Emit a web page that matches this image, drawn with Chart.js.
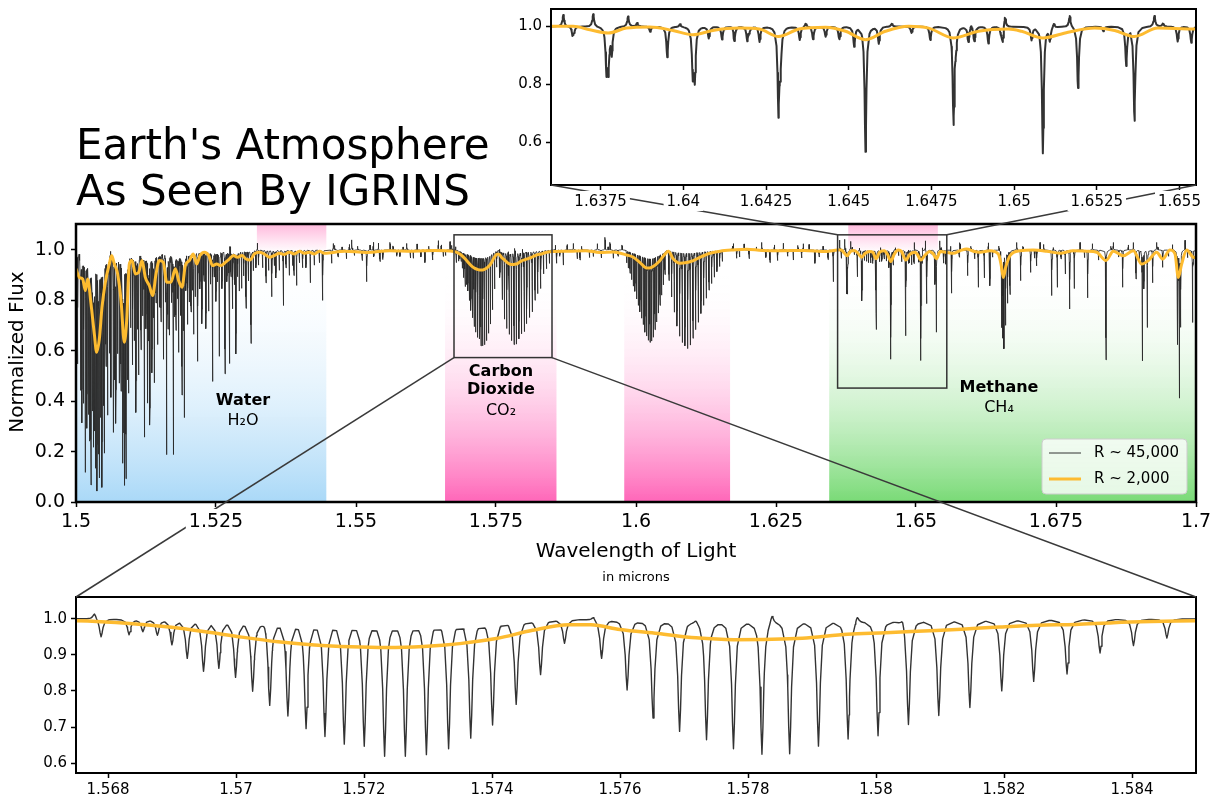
<!DOCTYPE html>
<html>
<head>
<meta charset="utf-8">
<script src="https://cdn.jsdelivr.net/npm/chart.js@4.4.1/dist/chart.umd.min.js"></script>
<style>
  body { margin: 0; background: #fff; width: 1215px; height: 800px; overflow: hidden; position: relative; font-family: 'DejaVu Sans', sans-serif; }
  .pane { position: absolute; }
  #title { position: absolute; left: 76px; top: 122px; font-size: 42px; line-height: 46px; white-space: nowrap; color: #000;
    will-change: transform; -webkit-font-smoothing: antialiased; }
  #overlay { position: absolute; left: 0; top: 0; pointer-events: none; }
</style>
</head>
<body>
<div id="title">Earth's Atmosphere<br>As Seen By IGRINS</div>
<canvas class="pane" id="mainChart" width="1215" height="386" style="left:0;top:214px"></canvas>
<canvas class="pane" id="topChart" width="735" height="222" style="left:480px;top:0"></canvas>
<canvas class="pane" id="bottomChart" width="1215" height="212" style="left:0;top:588px"></canvas>
<canvas id="overlay" width="1215" height="800"></canvas>
<script>
Chart.defaults.font.family = "'DejaVu Sans', sans-serif";
Chart.defaults.color = '#000';

// ---- high resolution spectrum: absorption features (wavelength in microns, minimum flux) ----
const waterWl = [1.50107, 1.50167, 1.50226, 1.50268, 1.50310, 1.50345, 1.50375, 1.50417, 1.50464, 1.50506,
  1.50565, 1.50625, 1.50667, 1.50714, 1.50774, 1.50833, 1.50863, 1.50893, 1.50940, 1.51012,
  1.51071, 1.51119, 1.51161, 1.51220, 1.51280, 1.51321, 1.51357, 1.51399, 1.51458, 1.51518,
  1.51560, 1.51619, 1.51667, 1.51738, 1.51786, 1.51833, 1.51893, 1.51935, 1.51994, 1.52054,
  1.52101, 1.52173, 1.52250, 1.52321, 1.52369, 1.52440, 1.52500, 1.52560, 1.52661, 1.52738,
  1.52798, 1.52857, 1.52917, 1.52958, 1.53036, 1.53125, 1.53214, 1.53393, 1.53497, 1.53571,
  1.53702, 1.53810, 1.53893, 1.53940, 1.54048, 1.54185, 1.54405,
  1.50030, 1.50083, 1.50137, 1.50196, 1.50244, 1.50292, 1.50327, 1.50399, 1.50440, 1.50488,
  1.50536, 1.50595, 1.50696, 1.50744, 1.50804, 1.50851, 1.50917, 1.50976, 1.51042, 1.51095,
  1.51190, 1.51250, 1.51298, 1.51381, 1.51429, 1.51488, 1.51595, 1.51643, 1.51702, 1.51762,
  1.51810, 1.51863, 1.51917, 1.51964, 1.52024, 1.52077, 1.52131, 1.52214, 1.52286, 1.52405,
  1.52470, 1.52530, 1.52607, 1.52696, 1.52768, 1.52833, 1.52887, 1.52994, 1.53077, 1.53167,
  1.53262, 1.53333, 1.53440, 1.53542, 1.53631, 1.53750, 1.53869, 1.53988, 1.54107, 1.54256, 1.54345,
  1.50238, 1.50613, 1.51590, 1.52750, 1.53240];
const waterFlux = [0.32, 0.12, 0.36, 0.07, 0.23, 0.14, 0.045, 0.10, 0.06, 0.20,
  0.35, 0.42, 0.28, 0.32, 0.48, 0.16, 0.07, 0.095, 0.44, 0.55,
  0.36, 0.51, 0.61, 0.26, 0.40, 0.31, 0.52, 0.48, 0.63, 0.72,
  0.57, 0.19, 0.67, 0.19, 0.69, 0.60, 0.43, 0.34, 0.71, 0.76,
  0.67, 0.56, 0.71, 0.69, 0.76, 0.48, 0.80, 0.58, 0.51, 0.55,
  0.77, 0.59, 0.84, 0.85, 0.77, 0.63, 0.93, 0.87, 0.815, 0.89,
  0.78, 0.90, 0.90, 0.86, 0.93, 0.87, 0.80,
  0.55, 0.45, 0.40, 0.30, 0.25, 0.38, 0.30, 0.20, 0.35, 0.40,
  0.55, 0.60, 0.50, 0.60, 0.45, 0.30, 0.50, 0.70, 0.65, 0.70,
  0.75, 0.70, 0.66, 0.75, 0.80, 0.78, 0.80, 0.70, 0.80, 0.75,
  0.82, 0.75, 0.70, 0.85, 0.80, 0.85, 0.82, 0.85, 0.88, 0.87,
  0.90, 0.88, 0.85, 0.88, 0.90, 0.87, 0.90, 0.90, 0.88, 0.92,
  0.94, 0.93, 0.92, 0.94, 0.92, 0.93, 0.94, 0.95, 0.93, 0.94, 0.95,
  1.044, 1.05, 1.037, 1.046, 1.03];

const co2aWl = [1.567892, 1.568329, 1.568545, 1.568772, 1.568999, 1.569238, 1.569493, 1.569732, 1.569993, 1.570260,
  1.570527, 1.570811, 1.571095, 1.571390, 1.571692, 1.572004, 1.572322, 1.572646, 1.572975, 1.573322,
  1.573668, 1.574009, 1.574378, 1.574759, 1.575133, 1.575713, 1.576111, 1.576516, 1.576931, 1.577352,
  1.577773, 1.578218, 1.578651, 1.579101, 1.579564, 1.580032, 1.580507, 1.580981, 1.581467, 1.581965,
  1.582464, 1.582985, 1.583501, 1.584023, 1.584545];
const co2aFlux = [0.949, 0.957, 0.966, 0.957, 0.931, 0.894, 0.859, 0.868, 0.843, 0.805,
  0.765, 0.737, 0.702, 0.680, 0.659, 0.653, 0.625, 0.625, 0.629, 0.645,
  0.674, 0.710, 0.766, 0.848, 0.934, 0.892, 0.805, 0.728, 0.691, 0.668,
  0.643, 0.627, 0.629, 0.650, 0.669, 0.678, 0.708, 0.734, 0.756, 0.802,
  0.828, 0.848, 0.906, 0.926, 0.947];

const co2bWl = [1.598333, 1.598631, 1.598929, 1.599226, 1.599524, 1.599821, 1.600119, 1.600417, 1.600714, 1.601012,
  1.601310, 1.601607, 1.601905, 1.602202, 1.602500, 1.602798, 1.603095, 1.603393, 1.603690, 1.603988,
  1.604286, 1.604583, 1.604881, 1.605179,
  1.605893, 1.606369, 1.606845, 1.607321, 1.607798, 1.608274, 1.608750, 1.609226, 1.609702, 1.610179,
  1.610655, 1.611131, 1.611607, 1.612083, 1.612560, 1.613036, 1.613512, 1.613988, 1.614464, 1.614940, 1.615417];
const co2bFlux = [0.95, 0.93, 0.91, 0.885, 0.86, 0.84, 0.81, 0.785, 0.76, 0.735,
  0.71, 0.68, 0.665, 0.648, 0.64, 0.645, 0.66, 0.69, 0.72, 0.755,
  0.785, 0.825, 0.865, 0.905,
  0.88, 0.815, 0.755, 0.70, 0.66, 0.635, 0.622, 0.611, 0.625, 0.652,
  0.686, 0.715, 0.75, 0.782, 0.81, 0.842, 0.868, 0.893, 0.915, 0.935, 0.955];

const ch4Wl = [1.635238, 1.636653, 1.637677, 1.637737, 1.637837, 1.639514, 1.640287, 1.640347, 1.640769, 1.641171,
  1.641542, 1.641934, 1.642305, 1.642877, 1.642938, 1.643520, 1.643922, 1.644303, 1.644725, 1.645166,
  1.645508, 1.645910, 1.647466, 1.648169, 1.648239, 1.648620, 1.648801, 1.649223, 1.649654, 1.650528,
  1.650870, 1.651080, 1.651934, 1.653390, 1.653640, 1.654946,
  1.655357, 1.656369, 1.659226, 1.661131, 1.662202, 1.663214, 1.665298, 1.665476, 1.665714, 1.666012,
  1.666369, 1.666786, 1.668690, 1.670476, 1.671548, 1.674226, 1.675238, 1.676667, 1.677440, 1.678274,
  1.680655, 1.683929, 1.686905, 1.689286, 1.690417, 1.690714, 1.691310, 1.692262, 1.694048, 1.696667,
  1.697024, 1.697262, 1.699405];
const ch4Flux = [0.874, 0.971, 0.852, 0.856, 0.910, 0.894, 0.839, 0.825, 0.960, 0.956,
  0.948, 0.952, 0.948, 0.704, 0.860, 0.954, 0.956, 0.965, 0.965, 0.933,
  0.567, 0.942, 0.954, 0.666, 0.940, 0.948, 0.950, 0.942, 0.945, 0.955,
  0.562, 0.955, 0.787, 0.867, 0.675, 0.948,
  0.944, 0.828, 0.898, 0.852, 0.872, 0.858, 0.700, 0.660, 0.614, 0.706,
  0.792, 0.825, 0.878, 0.911, 0.937, 0.819, 0.852, 0.905, 0.766, 0.845,
  0.810, 0.564, 0.852, 0.885, 0.561, 0.850, 0.693, 0.870, 0.931, 0.627,
  0.415, 0.700, 0.700];

// small dips and noise spikes along the continuum
const fuzzWl = [1.545655, 1.545952, 1.549226, 1.551905, 1.553095, 1.554286, 1.556071, 1.557857, 1.559048, 1.560238,
  1.562321, 1.564702, 1.565595, 1.566786, 1.585833, 1.587024, 1.588810, 1.590000, 1.592381, 1.594464,
  1.595357, 1.595952, 1.617381, 1.617976, 1.622440, 1.623929, 1.626310, 1.628095, 1.629881, 1.631964,
  1.636371, 1.637275, 1.638329, 1.649725, 1.651683, 1.654243, 1.657857, 1.662917, 1.667976, 1.672143,
  1.679286, 1.685238, 1.688810, 1.692976, 1.698036,
  1.5462, 1.5468, 1.5475, 1.5483, 1.5488, 1.5497, 1.5503, 1.5511, 1.5525, 1.5532,
  1.5540, 1.5548, 1.5566, 1.5573, 1.5584, 1.5597, 1.5609, 1.5616, 1.5630, 1.5637,
  1.5652, 1.5660, 1.5671, 1.5856, 1.5864, 1.5877, 1.5895, 1.5903, 1.5917, 1.5931,
  1.5938, 1.5950, 1.5968, 1.5975, 1.6172, 1.6185, 1.6193, 1.6202, 1.6215, 1.6232,
  1.6247, 1.6253, 1.6271, 1.6289, 1.6296, 1.6309, 1.6327, 1.6334, 1.6343,
  1.6367, 1.6386, 1.6390, 1.6399, 1.6415, 1.6420, 1.6437, 1.6447, 1.6463, 1.6469,
  1.6487, 1.6496, 1.6512, 1.6527, 1.6545,
  1.6562, 1.6577, 1.6598, 1.6605, 1.6622, 1.6637, 1.6648, 1.6691, 1.6712, 1.6728,
  1.6745, 1.6759, 1.6782, 1.6801, 1.6815, 1.6826, 1.6848, 1.6862, 1.6879, 1.6899,
  1.6932, 1.6951, 1.6958, 1.6985, 1.6994,
  1.567789, 1.570448, 1.575583, 1.577186, 1.578375, 1.579706, 1.580417];
const fuzzFlux = [0.947, 1.026, 1.04, 0.874, 1.033, 0.954, 1.03, 0.974, 1.026, 0.967,
  0.95, 1.037, 0.974, 1.033, 0.947, 0.94, 1.026, 0.96, 0.974, 1.05,
  1.03, 0.967, 1.025, 0.967, 1.03, 0.95, 1.027, 0.96, 1.025, 0.947,
  1.04, 1.044, 1.035, 1.04, 1.04, 1.037, 1.03, 1.03, 1.03, 1.03,
  1.03, 1.03, 1.03, 1.03, 1.04,
  1.018, 0.972, 1.012, 0.965, 1.022, 0.978, 1.015, 0.958, 1.02, 0.97,
  1.028, 0.962, 1.016, 0.975, 1.012, 0.968, 1.024, 0.972, 1.015, 0.96,
  1.02, 0.978, 1.018, 1.02, 0.975, 1.022, 0.965, 1.015, 0.97, 1.025,
  0.968, 1.012, 0.975, 1.02, 1.015, 0.972, 1.024, 0.965, 1.012, 0.97,
  1.02, 0.958, 0.975, 1.018, 0.968, 1.022, 0.972, 1.015, 0.962,
  0.985, 1.012, 0.982, 1.01, 1.008, 0.985, 1.012, 0.986, 1.01, 0.978,
  1.012, 0.982, 1.015, 0.984, 1.01,
  1.02, 0.97, 1.015, 0.965, 1.02, 0.972, 1.018, 1.015, 0.968, 1.022,
  1.012, 0.965, 1.018, 0.97, 1.025, 0.96, 1.015, 0.972, 1.02, 0.965,
  1.012, 0.975, 1.022, 0.97, 1.018,
  1.017, 1.012, 1.01, 1.01, 1.026, 1.022, 1.022];

// ---- low resolution spectrum (R ~ 2,000) ----
const lowWl = [1.50000, 1.50060, 1.50119, 1.50167, 1.50208, 1.50268, 1.50327, 1.50369, 1.50417, 1.50464,
  1.50524, 1.50595, 1.50637, 1.50685, 1.50744, 1.50804, 1.50863, 1.50905, 1.50952, 1.51000,
  1.51060, 1.51119, 1.51179, 1.51238, 1.51310, 1.51369, 1.51429, 1.51488, 1.51560, 1.51619,
  1.51696, 1.51774, 1.51833, 1.51893, 1.51952, 1.52024, 1.52095, 1.52155, 1.52214, 1.52292,
  1.52369, 1.52440, 1.52512, 1.52589, 1.52667, 1.52738, 1.52810, 1.52887, 1.52964, 1.53036,
  1.53107, 1.53185, 1.53274, 1.53363, 1.53452, 1.53542, 1.53631, 1.53720, 1.53810, 1.53899,
  1.53988, 1.54077, 1.54167, 1.54256, 1.54345, 1.54435, 1.5480, 1.5519, 1.5560, 1.5600,
  1.5640, 1.567506, 1.568386, 1.568954, 1.569522, 1.570090, 1.570658, 1.571226, 1.571794, 1.572362,
  1.572930, 1.573498, 1.574066, 1.574634, 1.575202, 1.575543, 1.576000, 1.576593, 1.577186, 1.577779,
  1.578372, 1.578846, 1.579558, 1.580151, 1.580744, 1.581337, 1.581930, 1.582523, 1.583116, 1.583709,
  1.584302, 1.585001, 1.5880, 1.5910, 1.593571, 1.595952, 1.598333, 1.599524, 1.600714, 1.601905,
  1.602798, 1.603988, 1.605179, 1.605774, 1.606667, 1.607857, 1.609048, 1.610238, 1.611429, 1.613214,
  1.615000, 1.617381, 1.619762, 1.6225, 1.6260, 1.6300, 1.6340, 1.636020, 1.636673, 1.637175,
  1.637727, 1.638279, 1.638982, 1.639685, 1.640287, 1.640889, 1.641693, 1.642295, 1.642877, 1.643500,
  1.644303, 1.644906, 1.645508, 1.646111, 1.646813, 1.647416, 1.648169, 1.648922, 1.649825, 1.650227,
  1.650870, 1.651633, 1.652436, 1.653039, 1.653640, 1.654343, 1.655398, 1.656667, 1.657857, 1.659048,
  1.660238, 1.661429, 1.663214, 1.664702, 1.665179, 1.665595, 1.666012, 1.666786, 1.668571, 1.670952,
  1.673333, 1.675714, 1.678095, 1.680476, 1.682262, 1.683929, 1.685238, 1.687024, 1.688810, 1.690298,
  1.691488, 1.692976, 1.694048, 1.695357, 1.696250, 1.696845, 1.697440, 1.698333, 1.699524, 1.7];
const lowFlux = [0.925, 0.891, 0.885, 0.839, 0.885, 0.786, 0.667, 0.594, 0.647, 0.772,
  0.872, 0.944, 0.978, 0.944, 0.905, 0.799, 0.634, 0.720, 0.944, 0.958,
  0.905, 0.911, 0.958, 0.891, 0.858, 0.819, 0.905, 0.958, 0.951, 0.872,
  0.872, 0.925, 0.878, 0.852, 0.938, 0.958, 0.984, 0.944, 0.978, 0.991,
  0.978, 0.938, 0.944, 0.938, 0.951, 0.964, 0.978, 0.971, 0.978, 0.964,
  0.960, 0.984, 0.991, 0.984, 0.971, 0.978, 0.987, 0.982, 0.991, 0.984,
  0.995, 0.987, 0.991, 0.984, 0.995, 0.987, 0.995, 0.990, 0.997, 0.995,
  0.998, 0.994, 0.986, 0.977, 0.964, 0.949, 0.936, 0.927, 0.922, 0.920,
  0.923, 0.931, 0.945, 0.968, 0.983, 0.983, 0.970, 0.959, 0.947, 0.942,
  0.943, 0.946, 0.957, 0.961, 0.966, 0.971, 0.977, 0.982, 0.984, 0.989,
  0.992, 0.994, 0.995, 0.997, 0.990, 0.992, 0.980, 0.971, 0.950, 0.928,
  0.931, 0.951, 0.984, 0.995, 0.964, 0.947, 0.950, 0.958, 0.971, 0.987,
  0.995, 1.000, 1.003, 0.998, 0.997, 0.998, 0.994, 1.000, 1.000, 0.988,
  0.977, 0.994, 0.998, 0.986, 0.971, 0.986, 0.994, 0.991, 0.965, 0.991,
  0.997, 0.983, 0.954, 0.983, 1.000, 0.994, 0.960, 0.983, 0.991, 0.983,
  0.960, 0.980, 0.994, 0.986, 0.965, 0.994, 0.991, 0.987, 0.997, 1.004,
  0.995, 0.991, 0.997, 0.984, 0.944, 0.891, 0.931, 0.977, 0.997, 1.000,
  0.995, 0.987, 0.997, 0.995, 0.991, 0.958, 0.995, 0.977, 0.997, 0.944,
  0.958, 0.991, 0.964, 1.000, 0.984, 0.891, 0.944, 1.000, 0.971, 0.970];

// ---- molecule bands and zoom windows ----
const bandFrom = [1.5, 1.5659, 1.5979, 1.6345];
const bandTo = [1.5447, 1.5858, 1.6168, 1.7];
const capFrom = [1.5323, 1.6379];
const capTo = [1.5447, 1.6539];
const bottomX = [1.5675, 1.585], bottomY = [0.573, 1.06];
const topX = [1.636, 1.6555], topY = [0.452, 1.06];

// ---- tick values ----
const mainXTicks = [1.5, 1.525, 1.55, 1.575, 1.6, 1.625, 1.65, 1.675, 1.7];
const mainYTicks = [0, 0.2, 0.4, 0.6, 0.8, 1.0];
const topXTicks = [1.6375, 1.64, 1.6425, 1.645, 1.6475, 1.65, 1.6525, 1.655];
const topYTicks = [0.6, 0.8, 1.0];
const bottomXTicks = [1.568, 1.57, 1.572, 1.574, 1.576, 1.578, 1.58, 1.582, 1.584];
const bottomYTicks = [0.6, 0.7, 0.8, 0.9, 1.0];

const ORANGE = '#fdbb30';
const GAMMA = 0.00003;
const OFFS = [-8, -4, -2, -1, -0.5, 0, 0.5, 1, 2, 4, 8];

// spectrum = product of the listed features, sampled around each feature
function buildHires() {
  const wl = [].concat(waterWl, co2aWl, co2bWl, ch4Wl, fuzzWl);
  const fl = [].concat(waterFlux, co2aFlux, co2bFlux, ch4Flux, fuzzFlux);
  const lines = wl.map((c, i) => ({ c, a: 1 - fl[i] })).sort((p, q) => p.c - q.c);
  const xs = [1.4995, 1.7005];
  lines.forEach(l => OFFS.forEach(o => xs.push(l.c + o * GAMMA)));
  xs.sort((a, b) => a - b);
  const pts = [];
  let j0 = 0;
  xs.forEach(x => {
    while (j0 < lines.length && lines[j0].c < x - 60 * GAMMA) j0++;
    let f = 1;
    for (let j = j0; j < lines.length && lines[j].c <= x + 60 * GAMMA; j++) {
      const u = (x - lines[j].c) / GAMMA;
      f *= 1 - lines[j].a / (1 + u * u);
    }
    pts.push({ x, y: f });
  });
  return pts;
}
const hires = buildHires();
const lowres = lowWl.map((x, i) => ({ x, y: lowFlux[i] }));

const fmtX = v => String(+(+v).toFixed(4));
const fmtY = v => (+v).toFixed(1);

const frame = w => ({
  id: 'frame',
  afterDatasetsDraw(c) {
    const a = c.chartArea, ctx = c.ctx;
    ctx.save();
    ctx.strokeStyle = '#000';
    ctx.lineWidth = w;
    ctx.strokeRect(a.left, a.top, a.right - a.left, a.bottom - a.top);
    ctx.restore();
  }
});

function makeChart(id, o) {
  return new Chart(document.getElementById(id), {
    type: 'line',
    data: {
      datasets: [
        // first dataset is painted last, so the smooth curve sits on top
        { data: lowres.map(p => ({ x: p.x, y: p.y })), borderColor: ORANGE, borderWidth: o.loWidth,
          pointRadius: 0, cubicInterpolationMode: 'monotone' },
        { data: hires.map(p => ({ x: p.x, y: p.y })), borderColor: o.hiColor, borderWidth: o.hiWidth,
          pointRadius: 0, tension: 0, borderJoinStyle: 'round' }
      ]
    },
    options: {
      responsive: false, devicePixelRatio: 1, animation: false, parsing: false, normalized: true, events: [],
      layout: { padding: { left: 0, top: o.padTop, right: o.padRight, bottom: 0 } },
      plugins: { legend: { display: false }, tooltip: { enabled: false } },
      scales: {
        x: {
          type: 'linear', min: o.xMin, max: o.xMax,
          afterFit: s => { s.height = o.xH; s.paddingLeft = 0; s.paddingRight = 0; },
          afterBuildTicks: s => { s.ticks = o.xTicks.map(v => ({ value: v })); },
          ticks: { font: { size: o.font }, color: '#000', padding: o.xPad, maxRotation: 0, autoSkip: false, callback: fmtX },
          grid: { display: true, drawOnChartArea: false, drawTicks: true, tickLength: 5, tickWidth: 1.5, tickColor: '#000' },
          border: { display: false }
        },
        y: {
          type: 'linear', min: o.yMin, max: o.yMax,
          afterFit: s => { s.width = o.yW; s.paddingTop = 0; s.paddingBottom = 0; },
          afterBuildTicks: s => { s.ticks = o.yTicks.map(v => ({ value: v })); },
          ticks: { font: { size: o.font }, color: '#000', padding: o.yPad, autoSkip: false, callback: fmtY },
          grid: { display: true, drawOnChartArea: false, drawTicks: true, tickLength: 5, tickWidth: 1.5, tickColor: '#000' },
          border: { display: false }
        }
      }
    },
    plugins: (o.extra || []).concat([frame(o.frameW)])
  });
}

const mainDecor = {
  id: 'mainDecor',
  beforeDatasetsDraw(c) {
    const { ctx, chartArea: a, scales: { x, y } } = c;
    const colors = ['#a9d8f7', '#ff66b8', '#ff66b8', '#79da76'];
    const fadeAt = [1.0, 0.9, 0.9, 0.93];
    ctx.save();
    ctx.beginPath();
    ctx.rect(a.left, a.top, a.right - a.left, a.bottom - a.top);
    ctx.clip();
    bandFrom.forEach((b, i) => {
      const x0 = x.getPixelForValue(b), x1 = x.getPixelForValue(bandTo[i]);
      const yt = y.getPixelForValue(fadeAt[i]);
      const g = ctx.createLinearGradient(0, yt, 0, a.bottom);
      g.addColorStop(0, 'rgba(255,255,255,0)');
      g.addColorStop(1, colors[i]);
      ctx.fillStyle = g;
      ctx.fillRect(x0, yt, x1 - x0, a.bottom - yt);
    });
    capFrom.forEach((b, i) => {
      const x0 = x.getPixelForValue(b), x1 = x.getPixelForValue(capTo[i]);
      const yb = y.getPixelForValue(0.99);
      const g = ctx.createLinearGradient(0, a.top, 0, yb);
      g.addColorStop(0, '#ffbadd');
      g.addColorStop(1, 'rgba(255,186,221,0)');
      ctx.fillStyle = g;
      ctx.fillRect(x0, a.top, x1 - x0, yb - a.top);
    });
    ctx.restore();
  },
  afterDatasetsDraw(c) {
    const { ctx, chartArea: a, scales: { x, y } } = c;
    ctx.save();
    // zoom windows
    ctx.strokeStyle = '#333';
    ctx.lineWidth = 1.5;
    [[bottomX, bottomY], [topX, topY]].forEach(([bx, by]) => {
      const x0 = x.getPixelForValue(bx[0]), x1 = x.getPixelForValue(bx[1]);
      const y0 = y.getPixelForValue(by[1]), y1 = y.getPixelForValue(by[0]);
      ctx.strokeRect(x0, y0, x1 - x0, y1 - y0);
    });
    // band labels
    ctx.fillStyle = '#000';
    ctx.textAlign = 'center';
    ctx.textBaseline = 'middle';
    const lab = (t, wl, f, bold) => {
      ctx.font = (bold ? 'bold ' : '') + "16px 'DejaVu Sans'";
      ctx.fillText(t, x.getPixelForValue(wl), y.getPixelForValue(f));
    };
    lab('Water', 1.52982, 0.401, true);
    lab('H\u2082O', 1.52982, 0.321, false);
    lab('Carbon', 1.57589, 0.516, true);
    lab('Dioxide', 1.57589, 0.444, true);
    lab('CO\u2082', 1.57589, 0.361, false);
    lab('Methane', 1.66482, 0.452, true);
    lab('CH\u2084', 1.66482, 0.373, false);
    // legend
    const lx = a.right - 154, ly = a.bottom - 63;
    ctx.beginPath();
    ctx.roundRect(lx, ly, 145, 55, 4);
    ctx.fillStyle = 'rgba(255,255,255,0.8)';
    ctx.fill();
    ctx.strokeStyle = 'rgba(205,205,205,1)';
    ctx.lineWidth = 1;
    ctx.stroke();
    ctx.beginPath();
    ctx.moveTo(lx + 7, ly + 14); ctx.lineTo(lx + 39, ly + 14);
    ctx.strokeStyle = '#333'; ctx.lineWidth = 1; ctx.stroke();
    ctx.beginPath();
    ctx.moveTo(lx + 7, ly + 40); ctx.lineTo(lx + 39, ly + 40);
    ctx.strokeStyle = ORANGE; ctx.lineWidth = 3; ctx.stroke();
    ctx.fillStyle = '#000';
    ctx.textAlign = 'left';
    ctx.font = "15px 'DejaVu Sans'";
    ctx.fillText('R ~ 45,000', lx + 52, ly + 14);
    ctx.fillText('R ~ 2,000', lx + 52, ly + 40);
    ctx.restore();
  },
  afterDraw(c) {
    const { ctx, chartArea: a } = c;
    ctx.save();
    ctx.fillStyle = '#000';
    ctx.textAlign = 'center';
    ctx.textBaseline = 'middle';
    ctx.font = "20px 'DejaVu Sans'";
    ctx.fillText('Wavelength of Light', 636, a.bottom + 50);
    ctx.font = "13px 'DejaVu Sans'";
    ctx.fillText('in microns', 636, a.bottom + 76);
    ctx.translate(18, a.top + 128);
    ctx.rotate(-Math.PI / 2);
    ctx.font = "20px 'DejaVu Sans'";
    ctx.fillText('Normalized Flux', 0, 0);
    ctx.restore();
  }
};

const mainChart = makeChart('mainChart', {
  xMin: 1.5, xMax: 1.7, yMin: 0, yMax: 1.103, xTicks: mainXTicks, yTicks: mainYTicks,
  padTop: 10, padRight: 19, xH: 98, yW: 76, font: 19, xPad: 4, yPad: 6,
  hiColor: 'rgba(40,40,40,0.85)', hiWidth: 1, loWidth: 3, frameW: 2.5, extra: [mainDecor]
});
const topChart = makeChart('topChart', {
  xMin: topX[0], xMax: topX[1], yMin: topY[0], yMax: topY[1], xTicks: topXTicks, yTicks: topYTicks,
  padTop: 9, padRight: 19, xH: 37, yW: 71, font: 15, xPad: 3, yPad: 4,
  hiColor: '#333', hiWidth: 2, loWidth: 3, frameW: 2
});
const bottomChart = makeChart('bottomChart', {
  xMin: bottomX[0], xMax: bottomX[1], yMin: bottomY[0], yMax: bottomY[1], xTicks: bottomXTicks, yTicks: bottomYTicks,
  padTop: 9, padRight: 19, xH: 27, yW: 76, font: 15, xPad: 3, yPad: 4,
  hiColor: '#333', hiWidth: 1.4, loWidth: 3.5, frameW: 2
});

// connector lines from the zoom windows to the insets, hidden behind tick labels
function drawConnectors() {
  const cv = document.getElementById('overlay'), ctx = cv.getContext('2d');
  const offs = { main: [0, 214], top: [480, 0], bottom: [0, 588] };
  const mx = v => mainChart.scales.x.getPixelForValue(v) + offs.main[0];
  const my = v => mainChart.scales.y.getPixelForValue(v) + offs.main[1];
  const ta = topChart.chartArea, ba = bottomChart.chartArea;
  const segs = [
    [mx(bottomX[0]), my(bottomY[0]), ba.left + offs.bottom[0], ba.top + offs.bottom[1]],
    [mx(bottomX[1]), my(bottomY[0]), ba.right + offs.bottom[0], ba.top + offs.bottom[1]],
    [mx(topX[0]), my(topY[1]), ta.left + offs.top[0], ta.bottom + offs.top[1]],
    [mx(topX[1]), my(topY[1]), ta.right + offs.top[0], ta.bottom + offs.top[1]]
  ];
  ctx.save();
  ctx.beginPath();
  ctx.rect(0, 0, cv.width, cv.height);
  [[mainChart, offs.main, 19, 4], [topChart, offs.top, 15, 3]].forEach(([ch, off, size, pad]) => {
    const sc = ch.scales.x;
    ctx.font = size + "px 'DejaVu Sans'";
    sc.ticks.forEach(t => {
      const w = ctx.measureText(fmtX(t.value)).width;
      const cx = sc.getPixelForValue(t.value) + off[0];
      const top = ch.chartArea.bottom + off[1] + 5 + pad - 2;
      ctx.rect(cx - w / 2 - 3, top, w + 6, size + 5);
    });
  });
  ctx.clip('evenodd');
  ctx.strokeStyle = '#3a3a3a';
  ctx.lineWidth = 1.5;
  segs.forEach(s => {
    ctx.beginPath();
    ctx.moveTo(s[0], s[1]);
    ctx.lineTo(s[2], s[3]);
    ctx.stroke();
  });
  ctx.restore();
}
drawConnectors();
</script>
</body>
</html>
